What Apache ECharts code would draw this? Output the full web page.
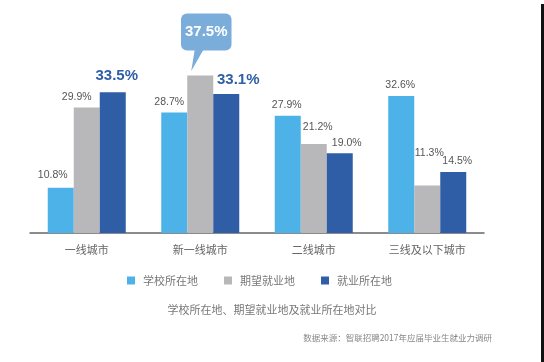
<!DOCTYPE html>
<html><head><meta charset="utf-8">
<script src="https://cdn.jsdelivr.net/npm/echarts@6/dist/echarts.min.js"></script>
<style>html,body{margin:0;padding:0;background:#fff}#c{width:544px;height:362px}</style>
</head><body><div id="c"></div>
<script>
var categories = ['一线城市', '新一线城市', '二线城市', '三线及以下城市'];
var seriesNames = ['学校所在地', '期望就业地', '就业所在地'];
var schoolValues = [10.8, 28.7, 27.9, 32.6];
var expectValues = [29.9, 37.5, 21.2, 11.3];
var jobValues = [33.5, 33.1, 19.0, 14.5];
var caption = '学校所在地、期望就业地及就业所在地对比';
var source = '数据来源：智联招聘2017年应届毕业生就业力调研';

var colors = ['#4cb2e8', '#b8b8ba', '#2f5ea6'];
// label styling (offsets per point)
var schoolOffsets = [[-8, -2], [-5, 0], [-1, 0], [-1, 0]];
var expectOffsets = [[-10, 0], [6, 0], [4, -6], [2, -22]];
var jobOffsets = [[4, -4], [12, -2], [7, 0], [4, 0]];

var normalLabel = {show: true, position: 'top', distance: 5, color: '#555', fontSize: 10.5, fontFamily: '"Liberation Sans", Arial, sans-serif', formatter: function(p){return p.value.toFixed(1) + '%';}};

function build(values, offsets, special) {
  return values.map(function(v, i) {
    var item = {value: v, label: {offset: offsets[i]}};
    if (special && special[i]) item.label = Object.assign({offset: offsets[i]}, special[i]);
    return item;
  });
}

var boldBlue = {color: '#2f5ea6', fontSize: 15, fontWeight: 'bold'};
var bubble = {color: '#fff', fontSize: 15, fontWeight: 'bold', backgroundColor: '#7badda', borderRadius: 6, padding: [11, 4, 11, 4], distance: 25};

var chart = echarts.init(document.getElementById('c'));
chart.setOption({
  animation: false,
  textStyle: {fontFamily: '"Liberation Sans", "Noto Sans CJK SC", sans-serif'},
  grid: {left: 30, right: 60, top: 65, bottom: 129},
  xAxis: {
    type: 'category', data: categories,
    axisLine: {lineStyle: {color: '#666', width: 1.5}},
    axisTick: {show: false},
    axisLabel: {color: '#666', fontSize: 11, margin: 11, fontFamily: '"Noto Sans CJK SC", sans-serif'}
  },
  yAxis: {type: 'value', min: 0, max: 40, show: false, splitLine: {show: false}},
  legend: {
    left: 122, top: 270, itemWidth: 8, itemHeight: 8, itemGap: 26, icon: 'rect',
    textStyle: {color: '#777', fontSize: 11, padding: [0, 0, 0, 3], fontFamily: '"Noto Sans CJK SC", sans-serif'},
    data: seriesNames
  },
  graphic: [
    {type: 'text', left: 'center', top: 304, style: {text: caption, fill: '#777', font: '11px "Noto Sans CJK SC", sans-serif'}, x: -17},
    {type: 'text', right: 52, top: 334, style: {text: source, fill: '#888', font: '8.5px "Noto Sans CJK SC", sans-serif'}},
    {type: 'rect', right: 0, top: 4, shape: {width: 3, height: 358}, style: {fill: '#111'}}
  ],
  series: [
    {name: seriesNames[0], type: 'bar', barWidth: 26, barGap: '0%', itemStyle: {color: colors[0]}, label: normalLabel,
     data: build(schoolValues, schoolOffsets)},
    {name: seriesNames[1], type: 'bar', barWidth: 26, barGap: '0%', itemStyle: {color: colors[1]}, label: normalLabel,
     data: build(expectValues, expectOffsets, {1: bubble}),
     markPoint: {
       silent: true,
       symbol: 'path://M4,0 L14,0 L0,20 Z', symbolSize: [12, 21], symbolKeepAspect: false,
       symbolOffset: [-3, -15],
       itemStyle: {color: '#7badda'}, label: {show: false},
       data: [{coord: [categories[1], expectValues[1]]}]
     }},
    {name: seriesNames[2], type: 'bar', barWidth: 26, barGap: '0%', itemStyle: {color: colors[2]}, label: normalLabel,
     data: build(jobValues, jobOffsets, {0: boldBlue, 1: boldBlue})}
  ]
});
</script></body></html>
